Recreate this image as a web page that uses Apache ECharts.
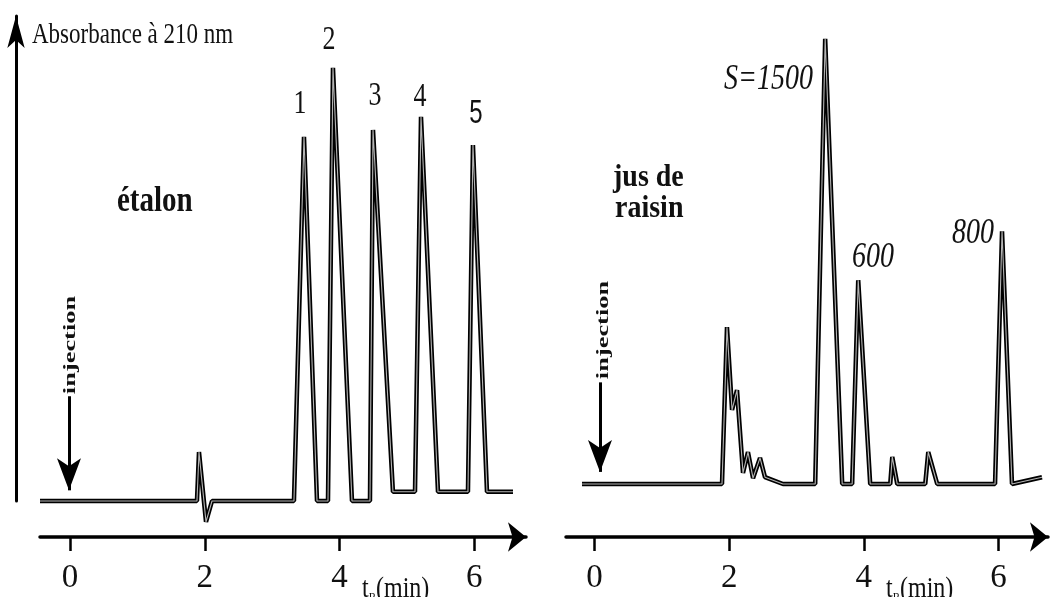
<!DOCTYPE html>
<html>
<head>
<meta charset="utf-8">
<script src="https://cdn.jsdelivr.net/npm/echarts@6/dist/echarts.min.js"></script>
<style>
  html, body { margin: 0; padding: 0; background: #fff; }
  #chroma { width: 1052px; height: 597px; }
</style>
</head>
<body>
<div id="chroma"></div>
<script>
// retention time (min) and absorbance (arbitrary units)
var etalonTime = [-0.445, 1.884, 1.914, 2.018, 2.107, 3.323, 3.472, 3.665, 3.828, 3.902, 4.184, 4.451, 4.496, 4.792, 5.119, 5.208, 5.46, 5.905, 5.979, 6.187, 6.573];
var etalonAbs  = [0, 0, 10.1, -4.3, 0, 0, 75.1, 0, 0, 89.3, 0, 0, 76.5, 1.9, 1.9, 79.2, 1.9, 1.9, 73.4, 1.9, 1.9];

var jusTime = [-0.187, 1.893, 1.967, 2.042, 2.116, 2.205, 2.279, 2.354, 2.458, 2.532, 2.799, 3.278, 3.426, 3.679, 3.827, 3.917, 4.095, 4.393, 4.423, 4.497, 4.913, 4.958, 5.091, 5.95, 6.054, 6.202, 6.648];
var jusAbs  = [0, 0, 32.4, 15.3, 19.4, 2.3, 6.6, 1.2, 5.4, 1.4, 0, 0, 92.0, 0, 0, 42.1, 0, 0, 5.6, 0, 0, 6.6, 0, 0, 52.2, 0, 1.4];

var tickValues = [0, 2, 4, 6];
var injectionTime = [-0.015, 0.08];

var etalonLabels = ['1', '2', '3', '4', '5'];
var jusLabels = ['S=1500', '600', '800'];

function pairs(xs, ys)
{
    var out = [];
    for (var i = 0; i < xs.length; ++i)
        out.push([xs[i], ys[i]]);
    return out;
}

var chart = echarts.init(document.getElementById('chroma'));
var serif = 'Liberation Serif';

function timeAxis(idx, minV, maxV, offset)
{
    return {
        type: 'value', gridIndex: idx, min: minV, max: maxV, offset: offset,
        axisLine: { show: true, onZero: false, symbol: ['none', 'arrow'], symbolSize: [22, 18],
                    lineStyle: { color: '#000', width: 3.5 } },
        axisTick: { show: true, customValues: tickValues, length: 14, inside: false,
                    lineStyle: { color: '#000', width: 2.5 } },
        axisLabel: { show: true, customValues: tickValues, margin: 25,
                     fontFamily: serif, fontSize: 33, color: '#111' },
        splitLine: { show: false }
    };
}

function injectionLine(t, y0, y1)
{
    return {
        silent: true, symbol: ['none', 'arrow'], symbolSize: [18, 32],
        lineStyle: { color: '#000', width: 3, type: 'solid' },
        label: { show: false },
        data: [[{ coord: [t, y0] }, { coord: [t, y1] }]]
    };
}

function trace(name, idx, xs, ys, mark)
{
    var s = [{
        name: name, type: 'line', xAxisIndex: idx, yAxisIndex: idx,
        data: pairs(xs, ys), showSymbol: false, clip: false, animation: false,
        lineStyle: { color: '#000', width: 4.5 }
    }, {
        name: name + ' (trait)', type: 'line', xAxisIndex: idx, yAxisIndex: idx,
        data: pairs(xs, ys), showSymbol: false, clip: false, animation: false,
        lineStyle: { color: '#b5b5b5', width: 1.1 }
    }];
    s[0].markLine = mark;
    return s;
}

function txt(str, x, y, size, opts)
{
    opts = opts || {};
    return {
        type: 'text', x: x, y: y, rotation: opts.rotation || 0,
        scaleX: opts.sx || 1, scaleY: opts.sy || 1,
        style: {
            text: str, fill: '#111',
            font: (opts.italic ? 'italic ' : '') + (opts.bold ? 'bold ' : '') + size + 'px "' + (opts.family || serif) + '"',
            textAlign: opts.align || 'left', textVerticalAlign: opts.va || 'middle'
        }
    };
}

function tR(x, y)
{
    return {
        type: 'text', x: x, y: y, scaleY: 1.2,
        style: {
            text: '{t|t}{r|R}{m|(min)}', fill: '#111', textVerticalAlign: 'top',
            rich: {
                t: { fontFamily: serif, fontSize: 24, color: '#111' },
                r: { fontFamily: serif, fontSize: 11, color: '#111', padding: [14, 0, 0, 0] },
                m: { fontFamily: serif, fontSize: 24, color: '#111' }
            }
        }
    };
}

var option = {
    backgroundColor: '#fff',
    animation: false,
    grid: [
        { left: 40, top: 16, width: 486, height: 485 },
        { left: 566, top: 0, width: 482, height: 484 }
    ],
    xAxis: [
        timeAxis(0, -0.445, 6.766, 36),
        timeAxis(1, -0.425, 6.737, 53)
    ],
    yAxis: [
        { type: 'value', gridIndex: 0, min: 0, max: 100, offset: 24,
          axisLine: { show: true, onZero: false, symbol: ['none', 'arrow'], symbolSize: [13, 32],
                      lineStyle: { color: '#000', width: 3 } },
          axisTick: { show: false }, axisLabel: { show: false }, splitLine: { show: false } },
        { type: 'value', gridIndex: 1, min: 0, max: 100, show: false }
    ],
    series: [].concat(
        trace('étalon', 0, etalonTime, etalonAbs, injectionLine(injectionTime[0], 21.6, 2.2)),
        trace('jus de raisin', 1, jusTime, jusAbs, injectionLine(injectionTime[1], 21.0, 2.5))
    ),
    graphic: [
        txt('Absorbance à 210 nm', 32, 35, 23, { sy: 1.3 }),
        txt('étalon', 117, 202, 29, { bold: true, sy: 1.2 }),
        txt('injection', 71, 345, 16, { bold: true, rotation: Math.PI / 2, align: 'center', sx: 1.65 }),
        txt('injection', 604, 330, 16, { bold: true, rotation: Math.PI / 2, align: 'center', sx: 1.65 }),
        txt(etalonLabels[0], 300, 104, 26, { align: 'center', sy: 1.3 }),
        txt(etalonLabels[1], 329, 40, 26, { align: 'center', sy: 1.3 }),
        txt(etalonLabels[2], 375, 96, 26, { align: 'center', sy: 1.3 }),
        txt(etalonLabels[3], 420, 97, 26, { align: 'center', sy: 1.3 }),
        txt(etalonLabels[4], 476, 114, 24, { align: 'center', sy: 1.35, family: 'Liberation Sans' }),
        txt('jus de', 613, 178, 28, { bold: true, sy: 1.1 }),
        txt('raisin', 615, 209, 28, { bold: true, sy: 1.1 }),
        txt(jusLabels[0], 813, 79, 28, { italic: true, align: 'right', sy: 1.3 }),
        txt(jusLabels[1], 852, 257, 28, { italic: true, sy: 1.3 }),
        txt(jusLabels[2], 952, 233, 28, { italic: true, sy: 1.3 }),
        tR(362, 574),
        tR(886, 574)
    ]
};

chart.setOption(option);

window.addEventListener('resize', function()
{
    chart.resize();
});
</script>
</body>
</html>
